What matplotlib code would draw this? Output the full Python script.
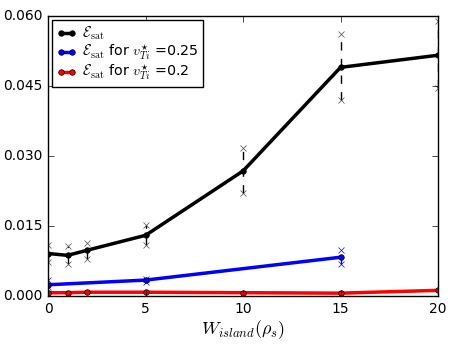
import numpy as np
import matplotlib
matplotlib.use('Agg')
import matplotlib.pyplot as plt

plt.style.use('classic')
plt.rcParams['mathtext.fontset'] = 'cm'
plt.rcParams['figure.facecolor'] = 'white'
plt.rcParams['savefig.facecolor'] = 'white'

# all islands
w_all = [0, 1, 2, 5, 10, 15, 20]
esat_all = [0.0091, 0.0087, 0.0098, 0.0130, 0.0268, 0.0490, 0.0516]
esat_all_hi = [0.0109, 0.0107, 0.0114, 0.0152, 0.0318, 0.0562, 0.0590]
esat_all_lo = [0.0072, 0.0068, 0.0080, 0.0109, 0.0220, 0.0421, 0.0445]

# vTi = 0.25
w_b = [0, 5, 15]
esat_b = [0.0024, 0.0034, 0.0083]
esat_b_hi = [0.0034, 0.0037, 0.0099]
esat_b_lo = [0.0019, 0.0030, 0.0068]

# vTi = 0.2
w_r = [0, 1, 2, 5, 10, 15, 20]
esat_r = [0.0007, 0.0007, 0.0008, 0.0008, 0.0007, 0.0006, 0.0012]

fig = plt.figure(figsize=(4.63, 3.49), dpi=100)
ax = fig.add_axes([0.104, 0.152, 0.842, 0.802])

for x, lo, hi in zip(w_all, esat_all_lo, esat_all_hi):
    ax.plot([x, x], [lo, hi], color='k', linestyle='--', marker='x',
            markersize=5, markeredgecolor='0.3', linewidth=1)
for x, lo, hi in zip(w_b, esat_b_lo, esat_b_hi):
    ax.plot([x, x], [lo, hi], color='b', linestyle='--', marker='x',
            markersize=5, linewidth=1)

ax.plot(w_all, esat_all, 'k-o', linewidth=2.5, markersize=4,
        label=r'$\mathcal{E}_{\rm sat}$')
ax.plot(w_b, esat_b, 'b-o', linewidth=2.5, markersize=4,
        label=r'$\mathcal{E}_{\rm sat}$ for $v_{Ti}^{\star}$ =0.25')
ax.plot(w_r, esat_r, 'r-o', linewidth=2.5, markersize=4,
        label=r'$\mathcal{E}_{\rm sat}$ for $v_{Ti}^{\star}$ =0.2')

ax.set_xlim(0, 20)
ax.set_ylim(0, 0.06)
ax.set_xticks([0, 5, 10, 15, 20])
ax.set_yticks([0, 0.015, 0.03, 0.045, 0.06])
ax.set_yticklabels(['0.000', '0.015', '0.030', '0.045', '0.060'])
ax.tick_params(labelsize=10)
ax.set_xlabel(r'$W_{island}(\rho_s)$', fontsize=13, labelpad=2)
ax.legend(loc='upper left', fontsize=10.3, numpoints=2, handlelength=1.4,
          borderaxespad=0.3, borderpad=0.3, labelspacing=0.05,
          handletextpad=0.4)

plt.savefig('out.png', dpi=100)
